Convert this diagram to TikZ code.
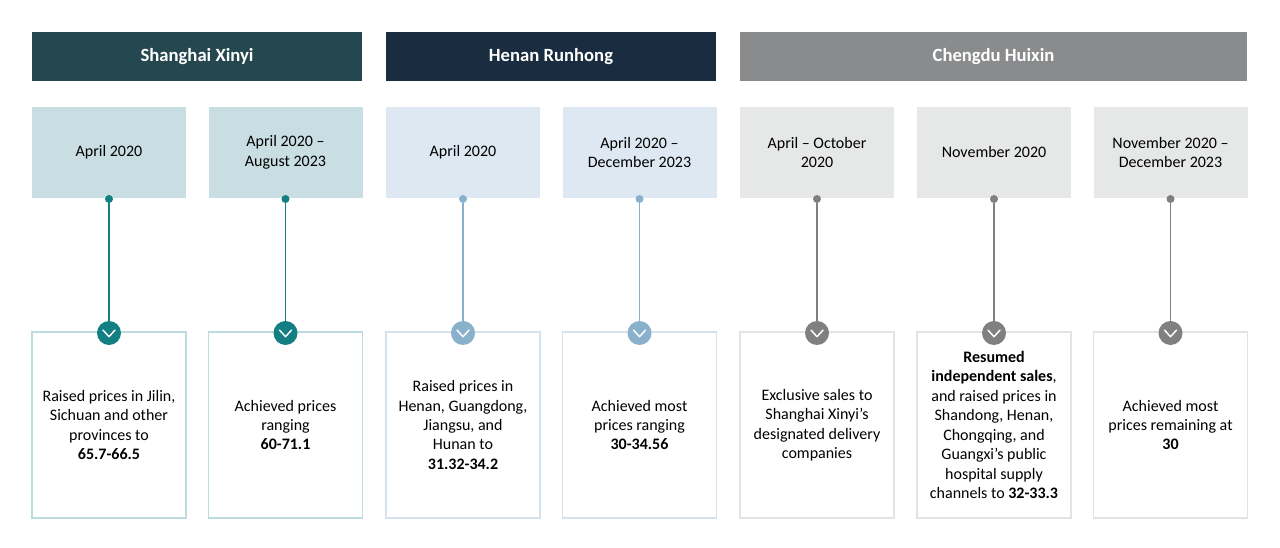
\documentclass[tikz,border=0pt]{standalone}
\usepackage{fontspec}
\setmainfont{Carlito}
\definecolor{sxDark}{HTML}{25474F}
\definecolor{hrDark}{HTML}{1A2C40}
\definecolor{chDark}{HTML}{898B8D}
\definecolor{sxLight}{HTML}{C9DEE3}
\definecolor{hrLight}{HTML}{DEE8F3}
\definecolor{chLight}{HTML}{E6E7E7}
\definecolor{sxAcc}{HTML}{137F83}
\definecolor{hrAcc}{HTML}{8AB1CB}
\definecolor{chAcc}{HTML}{808080}
\definecolor{sxRim}{HTML}{BCDCDF}
\definecolor{hrRim}{HTML}{D6E3EE}
\definecolor{chRim}{HTML}{E3E3E3}
\tikzset{
  header/.style={minimum height=36.75pt, inner sep=0pt, text=white,
    font=\bfseries\fontsize{14}{16}\selectfont},
  datebox/.style={minimum width=115.5pt, minimum height=68.25pt, inner sep=0pt,
    align=center, font=\fontsize{12}{14.6}\selectfont},
  notebox/.style={fill=white, minimum width=115.5pt, minimum height=139.5pt,
    inner sep=0pt, line width=1.2pt, align=center, font=\fontsize{12}{14.6}\selectfont},
  pin/.style={circle, inner sep=0pt, minimum size=6pt},
  chev/.style={circle, inner sep=0pt, minimum size=18pt}
}
\begin{document}
\begin{tikzpicture}[x=0.75pt, y=-0.75pt]
  \path[fill=white, use as bounding box] (0,0) rectangle (1280,548);
  % company headers
  \node[header, fill=sxDark, minimum width=247.5pt] (hd1) at (197,56.5) {Shanghai Xinyi};
  \node[header, fill=hrDark, minimum width=247.5pt] (hd2) at (551,56.5) {Henan Runhong};
  \node[header, fill=chDark, minimum width=380.25pt] (hd3) at (993.5,56.5) {Chengdu Huixin};
  \foreach \n/\x/\co/\when/\what in {%
      1/109/sx/{April 2020}/{Raised prices in Jilin,\\Sichuan and other\\provinces to\\\textbf{65.7-66.5}},
      2/285.5/sx/{April 2020 --\\August 2023}/{Achieved prices\\ranging\\\textbf{60-71.1}},
      3/463/hr/{April 2020}/{Raised prices in\\Henan, Guangdong,\\Jiangsu, and\\Hunan to\\\textbf{31.32-34.2}},
      4/639.5/hr/{April 2020 --\\December 2023}/{Achieved most\\prices ranging\\\textbf{30-34.56}},
      5/817/ch/{April -- October\\2020}/{Exclusive sales to\\Shanghai Xinyi’s\\designated delivery\\companies},
      6/994/ch/{November 2020}/{\textbf{Resumed}\\\textbf{independent sales},\\and raised prices in\\Shandong, Henan,\\Chongqing, and\\Guangxi’s public\\hospital supply\\channels to \textbf{32-33.3}},
      7/1170.5/ch/{November 2020 --\\December 2023}/{Achieved most\\prices remaining at\\\textbf{30}}} {
    \node[datebox, fill=\co Light] (d\n) at (\x,152.5) {\when};
    \node[pin, fill=\co Acc] (p\n) at (\x,199) {};
    \node[notebox, draw=\co Rim] (b\n) at (\x,425) {\what};
    \node[chev, fill=\co Acc] (c\n) at (\x,333) {};
    \draw[\co Acc, line width=1pt] (p\n) -- (c\n);
    \draw[white, line width=1.1pt, line cap=round, line join=round]
      ([xshift=-4.5pt, yshift=2.2pt]c\n.center) -- ([yshift=-2.8pt]c\n.center)
      -- ([xshift=4.5pt, yshift=2.2pt]c\n.center);
  }
\end{tikzpicture}
\end{document}
